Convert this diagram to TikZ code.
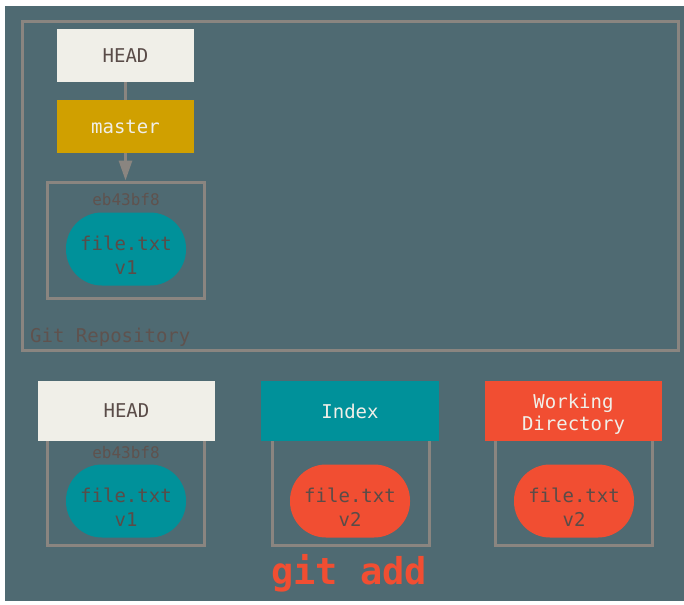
\documentclass[tikz,border=0pt]{standalone}
\usepackage{fontspec}
\setmonofont{DejaVu Sans Mono}
\definecolor{slate}{RGB}{79,106,114}
\definecolor{framegray}{RGB}{138,133,128}
\definecolor{paper}{RGB}{240,239,232}
\definecolor{gold}{RGB}{208,160,0}
\definecolor{teal}{RGB}{0,145,154}
\definecolor{gitred}{RGB}{241,78,50}
\definecolor{ink}{RGB}{90,76,72}
\usetikzlibrary{arrows.meta,positioning}
\tikzset{
  label box/.style={rectangle,fill=#1,minimum width=137pt,minimum height=53pt,
                    inner sep=0pt,align=center,font=\ttfamily\fontsize{19}{22}\selectfont},
  tree box/.style={rectangle,draw=framegray,line width=3pt,
                   minimum width=157pt,inner sep=0pt},
  blob/.style={rectangle,rounded corners=36pt,fill=#1,minimum width=120pt,
               minimum height=73pt,inner sep=0pt,align=center,text=ink,
               text height=50pt,text depth=0pt,
               font=\ttfamily\fontsize{19}{24}\selectfont},
  hash/.style={text=ink!90!framegray,font=\ttfamily\fontsize{16}{18}\selectfont,inner sep=0pt},
  arrow/.style={-{Triangle[width=13pt,length=20pt]},line width=3pt,framegray},
  link/.style={line width=3pt,framegray},
}
\begin{document}
\begin{tikzpicture}[x=1pt,y=-1pt]
  \useasboundingbox (0,0) rectangle (684,604);
  \fill[slate] (5,6) rectangle (684,601);

  % repository
  \draw[link] (22,22) rectangle (678,350);
  \node[anchor=west,text=ink!90!framegray,font=\ttfamily\fontsize{19}{22}\selectfont,inner sep=0pt]
    (repo) at (30,337) {Git Repository};

  \node[label box=paper,text=ink] (head) at (125.5,55.5) {HEAD};
  \node[label box=gold,text=paper] (master) at (125.5,126.5) {master};
  \node[tree box,minimum height=116pt] (commit) at (125.5,240) {};
  \node[hash] (sha) at (126,200) {eb43bf8};
  \node[blob=teal] (blob) at (126,249) {file.txt\\v1};
  \draw[link] (head) -- (master);
  \draw[arrow] (master) -- (commit.north);

  % the three trees
  \node[tree box,minimum height=134pt] (headtree) at (126,478) {};
  \node[tree box,minimum height=134pt] (indextree) at (351,478) {};
  \node[tree box,minimum height=134pt] (worktree) at (574,478) {};

  \node[label box=paper,text=ink,minimum width=177pt,minimum height=60pt] (headlabel) at (126.5,411) {HEAD};
  \node[label box=teal,text=paper,minimum width=178pt,minimum height=60pt] (indexlabel) at (350,411) {Index};
  \node[label box=gitred,text=paper,minimum width=177pt,minimum height=60pt,
        text height=39pt,text depth=0pt] (worklabel) at (573.5,411) {Working\\Directory};

  \node[hash] (headsha) at (126,453) {eb43bf8};
  \node[blob=teal] (headblob) at (126,501) {file.txt\\v1};
  \node[blob=gitred] (indexblob) at (350,501) {file.txt\\v2};
  \node[blob=gitred] (workblob) at (574,501) {file.txt\\v2};

  \node[text=gitred,font=\ttfamily\bfseries\fontsize{37}{40}\selectfont,inner sep=0pt]
    (cmd) at (349,573) {git add};
\end{tikzpicture}
\end{document}
